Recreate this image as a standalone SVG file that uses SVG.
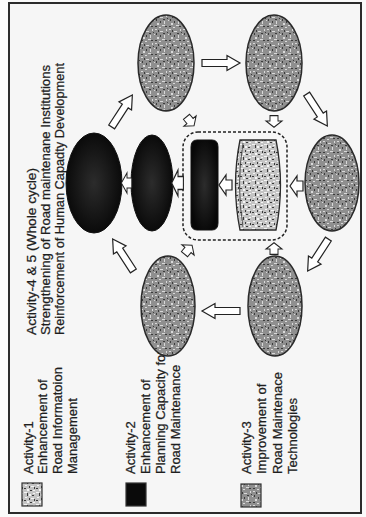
<svg xmlns="http://www.w3.org/2000/svg" width="366" height="517" viewBox="0 0 366 517">
<defs>
  <pattern id="spk3" width="14" height="14" patternUnits="userSpaceOnUse">
    <rect width="14" height="14" fill="#8f8f8f"/>
    <path d="M1 1h2v1h-2zM6 3h3v1h-3zM10 7h1v3h-1zM3 9h2v2h-2zM8 11h3v1h-3zM12 1h1v2h-1zM0 6h1v1h-1zM5 13h2v1h-2z" fill="#d9d9d9"/>
    <path d="M4 2h1v2h-1zM9 5h2v1h-2zM1 12h2v1h-2zM6 7h1v2h-1zM11 12h2v1h-2zM13 4h1v1h-1zM2 5h1v2h-1z" fill="#3c3c3c"/>
  </pattern>
  <pattern id="spk1" width="12" height="12" patternUnits="userSpaceOnUse">
    <rect width="12" height="12" fill="#c4c4c4"/>
    <path d="M0 0h3v1h-3zM5 2h2v2h-2zM9 1h2v1h-2zM1 5h2v1h-2zM7 6h3v1h-3zM3 9h2v2h-2zM9 10h2v1h-2z" fill="#f4f4f4"/>
    <path d="M3 1h1v3h-1zM8 3h2v1h-2zM0 8h2v1h-2zM5 6h1v2h-1zM10 7h1v2h-1zM6 10h2v1h-2z" fill="#3a3a3a"/>
  </pattern>
  <radialGradient id="blkg" cx="50%" cy="50%" r="55%">
    <stop offset="0" stop-color="#2c2c2c"/>
    <stop offset="1" stop-color="#070707"/>
  </radialGradient>
  <path id="bigArrow" d="M-19,-3.5H6V-7.5L19,0L6,7.5V3.5H-19Z"/>
  <path id="smArrow" d="M-6,-5H0V-10L7,0L0,10V5H-6Z"/>
</defs>
<style>
  .lg{font-family:"Liberation Sans",Arial,sans-serif;font-size:13px;fill:#1e1e1e;stroke:#1e1e1e;stroke-width:0.25}
  .ell{fill:url(#spk3);stroke:#2a2a2a;stroke-width:1.5}
  .ell1{fill:url(#spk1);stroke:#2a2a2a;stroke-width:1.3}
  .blk{fill:url(#blkg);stroke:#111;stroke-width:1}
  .arr{fill:#ffffff;stroke:#222;stroke-width:1.2}
</style>
<rect width="366" height="517" fill="#fafafa"/>
<rect x="9" y="3" width="352" height="510" fill="#f6f6f6" stroke="#2b2b2b" stroke-width="2"/>

<g id="legend">
  <g id="legend-act45">
    <text class="lg" transform="translate(36,335) rotate(-90)" textLength="167" lengthAdjust="spacingAndGlyphs">Activity-4 &amp; 5 (Whole cycle)</text>
    <text class="lg" transform="translate(50,335) rotate(-90)" textLength="270" lengthAdjust="spacingAndGlyphs">Strengthening of Road maintenane Institutions</text>
    <text class="lg" transform="translate(64,335) rotate(-90)" textLength="272" lengthAdjust="spacingAndGlyphs">Reinforcement of Human Capadty Development</text>
  </g>
  <g id="legend-act1">
    <rect x="22" y="483" width="20" height="23" fill="url(#spk1)" stroke="#333" stroke-width="1.2"/>
    <text class="lg" transform="translate(33,474) rotate(-90)">Activity-1</text>
    <text class="lg" transform="translate(47,474) rotate(-90)">Enhancement of</text>
    <text class="lg" transform="translate(62,474) rotate(-90)">Road Informatoion</text>
    <text class="lg" transform="translate(77,474) rotate(-90)">Management</text>
  </g>
  <g id="legend-act2">
    <rect x="126" y="483" width="20" height="23" fill="#0a0a0a" stroke="#333" stroke-width="1.2"/>
    <text class="lg" transform="translate(135,474) rotate(-90)">Activity-2</text>
    <text class="lg" transform="translate(150,474) rotate(-90)">Enhancement of</text>
    <text class="lg" transform="translate(165,474) rotate(-90)">Planning Capacity for</text>
    <text class="lg" transform="translate(180,474) rotate(-90)">Road Maintenance</text>
  </g>
  <g id="legend-act3">
    <rect x="241" y="484" width="20" height="23" fill="url(#spk3)" stroke="#333" stroke-width="1.2"/>
    <text class="lg" transform="translate(251,474) rotate(-90)">Activity-3</text>
    <text class="lg" transform="translate(266,474) rotate(-90)">Improvement of</text>
    <text class="lg" transform="translate(282,474) rotate(-90)">Road Maintenace</text>
    <text class="lg" transform="translate(297,474) rotate(-90)">Technologies</text>
  </g>
</g>

<g id="node-top-left"><ellipse class="ell" cx="166" cy="63" rx="28" ry="48"/></g>
<g id="node-top-right"><ellipse class="ell" cx="274" cy="63" rx="28" ry="48"/></g>
<g id="node-right"><ellipse class="ell" cx="332" cy="183" rx="27" ry="48"/></g>
<g id="node-bottom-right"><ellipse class="ell" cx="275" cy="306" rx="27" ry="50"/></g>
<g id="node-bottom-left"><ellipse class="ell" cx="168" cy="306" rx="27" ry="50"/></g>
<g id="node-black-1"><ellipse class="blk" cx="94" cy="183" rx="28" ry="50"/></g>
<g id="node-black-2"><ellipse class="blk" cx="152" cy="183" rx="21" ry="48"/></g>
<g id="node-center">
  <rect x="183" y="132" width="104" height="108" rx="15" fill="none" stroke="#222" stroke-width="1.5" stroke-dasharray="3 2"/>
  <path class="blk" d="M197,140H212Q218,140 218,147V223Q218,230 212,230H197Q191,230 191,223V147Q191,140 197,140Z"/>
  <path class="ell1" d="M240,140H276Q285,185 276,230H240Q231,185 240,140Z"/>
  <path d="M243,143Q236,185 243,227" fill="none" stroke="#333" stroke-width="0.8"/>
</g>

<g id="connectors">
  <use href="#bigArrow" class="arr" transform="translate(221,63)"/>
  <use href="#bigArrow" class="arr" transform="translate(221,311) rotate(180)"/>
  <use href="#bigArrow" class="arr" transform="translate(317,110) rotate(57)"/>
  <use href="#bigArrow" class="arr" transform="translate(318,255) rotate(123)"/>
  <use href="#bigArrow" class="arr" transform="translate(123,255) rotate(-123)"/>
  <use href="#bigArrow" class="arr" transform="translate(122,111) rotate(-57)"/>
  <use href="#smArrow" class="arr" transform="translate(226,185) rotate(180)"/>
  <use href="#smArrow" class="arr" transform="translate(297,186) rotate(180)"/>
  <use href="#smArrow" class="arr" transform="translate(178,183) rotate(180) scale(0.9,1.3)"/>
  <use href="#smArrow" class="arr" transform="translate(127,183) rotate(180) scale(0.8,1)"/>
  <use href="#smArrow" class="arr" transform="translate(274,121) rotate(90) scale(0.9,0.8)"/>
  <use href="#smArrow" class="arr" transform="translate(190,121) rotate(50) scale(0.9,0.8)"/>
  <use href="#smArrow" class="arr" transform="translate(274,249) rotate(-90) scale(0.9,0.8)"/>
  <use href="#smArrow" class="arr" transform="translate(188,250) rotate(-50) scale(0.9,0.8)"/>
</g>
</svg>
